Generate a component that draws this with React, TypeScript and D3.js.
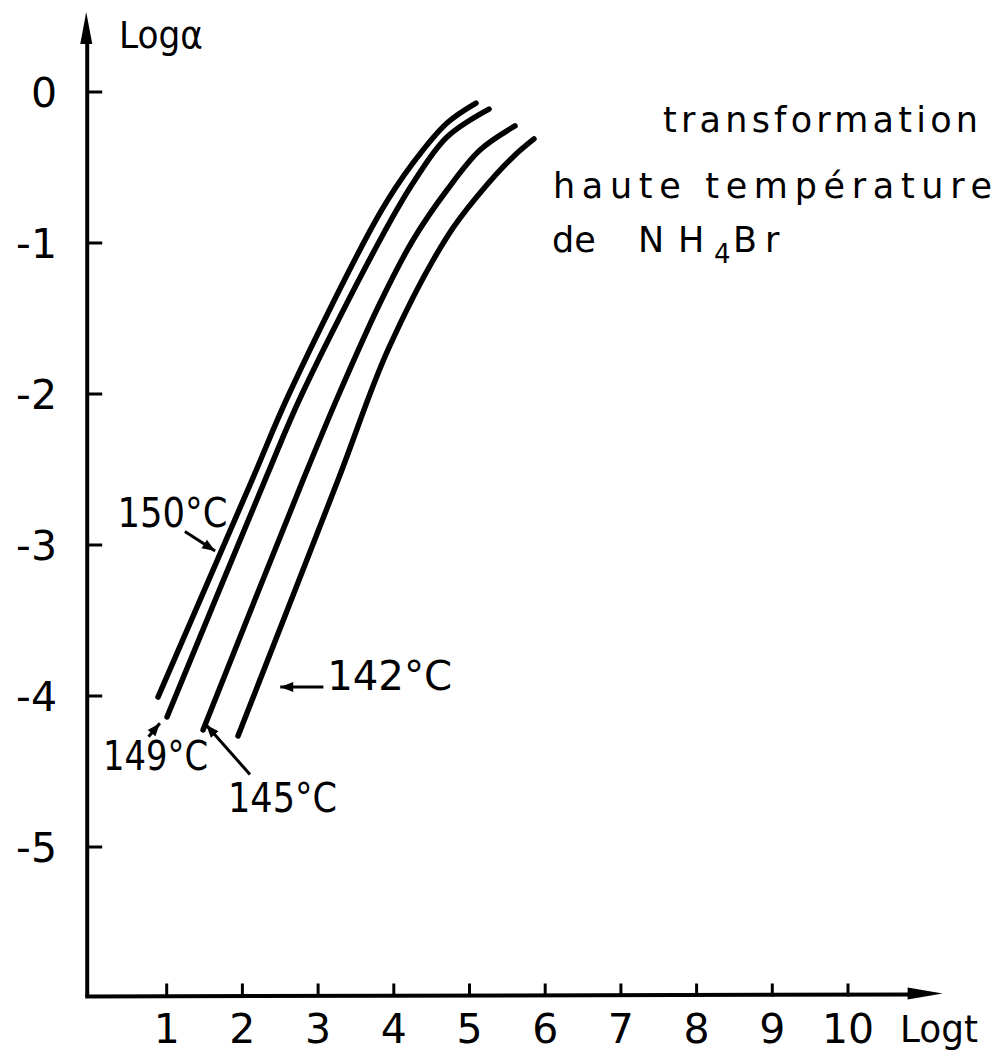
import React from "react";
import * as d3 from "d3";

// ---- data ----
const xTicks = [1, 2, 3, 4, 5, 6, 7, 8, 9, 10];
const yTicks = [0, -1, -2, -3, -4, -5];

const series150 = [
  [0.885, -4.007], [2.127, -2.57], [2.616, -2.0], [3.818, -0.801],
  [4.254, -0.47], [4.703, -0.205], [5.086, -0.073],
];
const series149 = [
  [1.004, -4.139], [2.299, -2.57], [2.787, -2.0], [3.818, -0.98],
  [4.254, -0.603], [4.703, -0.298], [5.258, -0.113],
];
const series145 = [
  [1.48, -4.225], [2.801, -2.57], [3.276, -2.0], [3.818, -1.397],
  [4.254, -0.98], [4.703, -0.649], [5.139, -0.384], [5.601, -0.225],
];
const series142 = [
  [1.942, -4.265], [3.263, -2.57], [3.93, -1.70],
  [4.703, -0.96], [5.139, -0.669], [5.575, -0.43], [5.852, -0.311],
];
const seriesList = [series150, series149, series145, series142];

// label: text, text position (data), arrow from (data) -> to (data)
const curveLabels = [
  { text: "150°C", x: 0.35, y: -2.88, w: 110, from: [1.24, -2.91], to: [1.64, -3.04] },
  { text: "149°C", x: 0.16, y: -4.49, w: 105, from: [0.76, -4.27], to: [0.91, -4.18] },
  { text: "145°C", x: 1.81, y: -4.77, w: 109, from: [2.1, -4.52], to: [1.52, -4.19] },
  { text: "142°C", x: 3.12, y: -3.96, w: 125, from: [3.07, -3.94], to: [2.5, -3.94] },
];

const FONT = "'DejaVu Sans', 'Open Sans', sans-serif";

export default function App() {
  const W = 997, H = 1060;
  const x = d3.scaleLinear().domain([0, 10]).range([91, 848]);
  const y = d3.scaleLinear().domain([0, -5]).range([92, 847]);
  const x0 = x(-0.05);
  const y0 = y(-5.99);
  const xEnd = x(11.25);
  const yEnd = y(0.53);

  const line = d3
    .line<number[]>()
    .x((d) => x(d[0]))
    .y((d) => y(d[1]))
    .curve(d3.curveCatmullRom.alpha(0.5));

  const arrowHead = (fx: number, fy: number, tx: number, ty: number, len = 14, hw = 5) => {
    const ang = Math.atan2(ty - fy, tx - fx);
    const bx = tx - len * Math.cos(ang);
    const by = ty - len * Math.sin(ang);
    const px = -Math.sin(ang) * hw;
    const py = Math.cos(ang) * hw;
    return `M${tx},${ty}L${bx + px},${by + py}L${bx - px},${by - py}Z`;
  };

  return (
    <svg
      width={W}
      height={H}
      style={{ position: "absolute", left: 0, top: 0, background: "#fff" }}
      fontFamily={FONT}
    >
      <rect width={W} height={H} fill="#fff" />
      {/* axes */}
      <line x1={x0} y1={y0} x2={x0} y2={yEnd + 20} stroke="#000" strokeWidth={4} />
      <path d={arrowHead(x0, y0, x0 - 1, yEnd, 32, 6)} fill="#000" />
      <line x1={x0 - 2} y1={y0} x2={xEnd - 20} y2={y0 - 2} stroke="#000" strokeWidth={4} />
      <path d={arrowHead(x0, y0, xEnd, y0 - 3, 35, 6)} fill="#000" />

      {/* y ticks */}
      {yTicks.map((t) => (
        <g key={"y" + t}>
          <line x1={x0} x2={x0 + 15} y1={y(t)} y2={y(t)} stroke="#000" strokeWidth={3} />
          <text x={57} y={y(t) + 15} textAnchor="end" fontSize={41}>
            {t === 0 ? "0" : "-" + Math.abs(t)}
          </text>
        </g>
      ))}
      {/* x ticks */}
      {xTicks.map((t) => (
        <g key={"x" + t}>
          <line x1={x(t)} x2={x(t)} y1={y0} y2={y0 - 13} stroke="#000" strokeWidth={3} />
          <text x={x(t)} y={1043} textAnchor="middle" fontSize={41}>
            {t}
          </text>
        </g>
      ))}

      {/* axis titles */}
      <text x={119} y={48} fontSize={38} textLength={84} lengthAdjust="spacingAndGlyphs">
        Logα
      </text>
      <text x={900} y={1042} fontSize={38} textLength={78} lengthAdjust="spacingAndGlyphs">
        Logt
      </text>

      {/* curves */}
      {seriesList.map((s, i) => (
        <path
          key={i}
          d={line(s) || ""}
          fill="none"
          stroke="#000"
          strokeWidth={5.5}
          strokeLinecap="round"
        />
      ))}

      {/* curve labels and arrows */}
      {curveLabels.map((l) => {
        const fx = x(l.from[0]), fy = y(l.from[1]);
        const tx = x(l.to[0]), ty = y(l.to[1]);
        return (
          <g key={l.text}>
            <text
              x={x(l.x)}
              y={y(l.y)}
              fontSize={40}
              textLength={l.w}
              lengthAdjust="spacingAndGlyphs"
            >
              {l.text}
            </text>
            <line x1={fx} y1={fy} x2={tx} y2={ty} stroke="#000" strokeWidth={3} />
            <path d={arrowHead(fx, fy, tx, ty, 13, 5)} fill="#000" />
          </g>
        );
      })}

      {/* annotation */}
      <text x={663} y={132} fontSize={35} textLength={315} lengthAdjust="spacing">
        transformation
      </text>
      <text x={553} y={198} fontSize={35} textLength={439} lengthAdjust="spacing">
        haute température
      </text>
      <text y={252} fontSize={35}>
        <tspan x={552}>de</tspan>
        <tspan x={638}>N</tspan>
        <tspan x={678}>H</tspan>
        <tspan x={714} fontSize={26} dy={11}>4</tspan>
        <tspan x={733} dy={-11}>B</tspan>
        <tspan x={765}>r</tspan>
      </text>
    </svg>
  );
}
